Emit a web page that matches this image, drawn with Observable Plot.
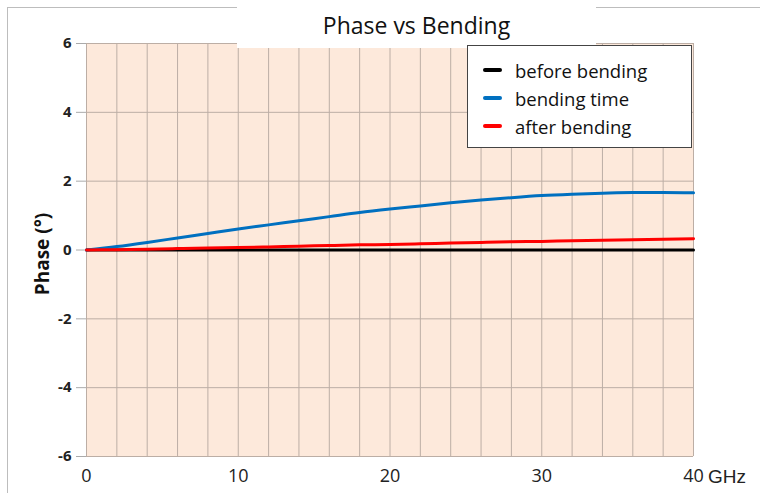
<!DOCTYPE html>
<html>
<head>
<meta charset="utf-8">
<script src="https://cdn.jsdelivr.net/npm/d3@7"></script>
<script src="https://cdn.jsdelivr.net/npm/@observablehq/plot@0.6"></script>
<style>
  body { margin: 0; background: #fff; }
  #wrap { position: relative; width: 760px; height: 493px; overflow: hidden; font-family: "Open Sans", sans-serif; }
  #wrap svg { position: absolute; left: 0; top: 0; }
  .frame { position: absolute; left: 7px; top: 7px; width: 800px; height: 600px; border-left: 1px solid #bdbdbd; border-top: 1px solid #bdbdbd; }
  .titlebox { position: absolute; left: 237px; top: 0; width: 359px; height: 48px; background: #fff; text-align: center; font-size: 23px; line-height: 50px; color: #111; }
  .legend { position: absolute; left: 467px; top: 45px; width: 223px; height: 101px; background: #fff; border: 1px solid #444; font-size: 18.5px; color: #111; }
  .legend .row { position: absolute; left: 15px; height: 22px; display: flex; align-items: center; }
  .legend .sw { width: 19px; height: 4px; border-radius: 2px; margin-right: 13px; }
  .ylab { position: absolute; left: 42px; top: 254px; transform: translate(-50%, -50%) rotate(-90deg); font-weight: bold; font-size: 19px; white-space: nowrap; color: #111; }
  .ghz { position: absolute; left: 708px; top: 466px; font-family: "Liberation Sans", Arial, sans-serif; font-size: 19px; color: #222; }
</style>
</head>
<body>
<div id="wrap"></div>
<script>
const freq = [0, 2, 4, 6, 8, 10, 12, 14, 16, 18, 20, 22, 24, 26, 28, 30, 32, 34, 36, 38, 40];
const beforeBending = [0, 0, 0, 0, 0, 0, 0, 0, 0, 0, 0, 0, 0, 0, 0, 0, 0, 0, 0, 0, 0];
const bendingTime = [0, 0.1, 0.22, 0.35, 0.48, 0.61, 0.73, 0.85, 0.97, 1.09, 1.19, 1.28, 1.37, 1.45, 1.52, 1.58, 1.62, 1.65, 1.67, 1.67, 1.66];
const afterBending = [0, 0.01, 0.02, 0.04, 0.06, 0.07, 0.09, 0.11, 0.13, 0.15, 0.16, 0.18, 0.2, 0.22, 0.24, 0.25, 0.27, 0.28, 0.3, 0.31, 0.33];
const seriesNames = ["before bending", "bending time", "after bending"];
const seriesColors = ["#000000", "#0070c0", "#ff0000"];
const xTicks = [0, 10, 20, 30, 40];
const yTicks = [-6, -4, -2, 0, 2, 4, 6];
const xGrid = d3.range(0, 41, 2);

const seriesValues = [beforeBending, bendingTime, afterBending];
const rows = [];
seriesNames.forEach((name, i) => {
  freq.forEach((f, j) => rows.push({series: name, f, v: seriesValues[i][j]}));
});

const chart = Plot.plot({
  width: 760,
  height: 493,
  marginLeft: 86,
  marginRight: 67,
  marginTop: 43,
  marginBottom: 37,
  style: {background: "transparent", fontFamily: "Open Sans, sans-serif"},
  x: {domain: [0, 40], axis: null},
  y: {domain: [-6, 6]},
  color: {domain: seriesNames, range: seriesColors},
  marks: [
    Plot.frame({fill: "#fde9db", stroke: null}),
    Plot.ruleX(xGrid, {stroke: "#bcaea5", strokeWidth: 1}),
    Plot.ruleY(yTicks, {stroke: "#bcaea5", strokeWidth: 1}),
    Plot.axisY({ticks: yTicks, tickSize: 10, stroke: "#aaa", tickFormat: () => "", label: null}),
    Plot.text(yTicks, {y: d => d, text: d => String(d), frameAnchor: "left", textAnchor: "end", dx: -15, fontSize: 15, fontWeight: "bold", fill: "#222"}),
    Plot.text(xTicks, {x: d => d, text: d => String(d), frameAnchor: "bottom", dy: 25, fontSize: 18, fill: "#222"}),
    Plot.line(rows, {x: "f", y: "v", z: "series", stroke: "series", strokeWidth: 3, curve: "monotone-x"})
  ]
});
const wrap = document.getElementById("wrap");
wrap.appendChild(chart);

const frame = document.createElement("div");
frame.className = "frame";
wrap.appendChild(frame);

const title = document.createElement("div");
title.className = "titlebox";
title.textContent = "Phase vs Bending";
wrap.appendChild(title);

const legend = document.createElement("div");
legend.className = "legend";
seriesNames.forEach((n, i) => {
  const r = document.createElement("div");
  r.className = "row";
  r.style.top = (13 + i * 28) + "px";
  const sw = document.createElement("div");
  sw.className = "sw";
  sw.style.background = seriesColors[i];
  const t = document.createElement("span");
  t.textContent = n;
  r.appendChild(sw); r.appendChild(t);
  legend.appendChild(r);
});
wrap.appendChild(legend);

const ylab = document.createElement("div");
ylab.className = "ylab";
ylab.textContent = "Phase (°)";
wrap.appendChild(ylab);

const ghz = document.createElement("div");
ghz.className = "ghz";
ghz.textContent = "GHz";
wrap.appendChild(ghz);
</script>
</body>
</html>
